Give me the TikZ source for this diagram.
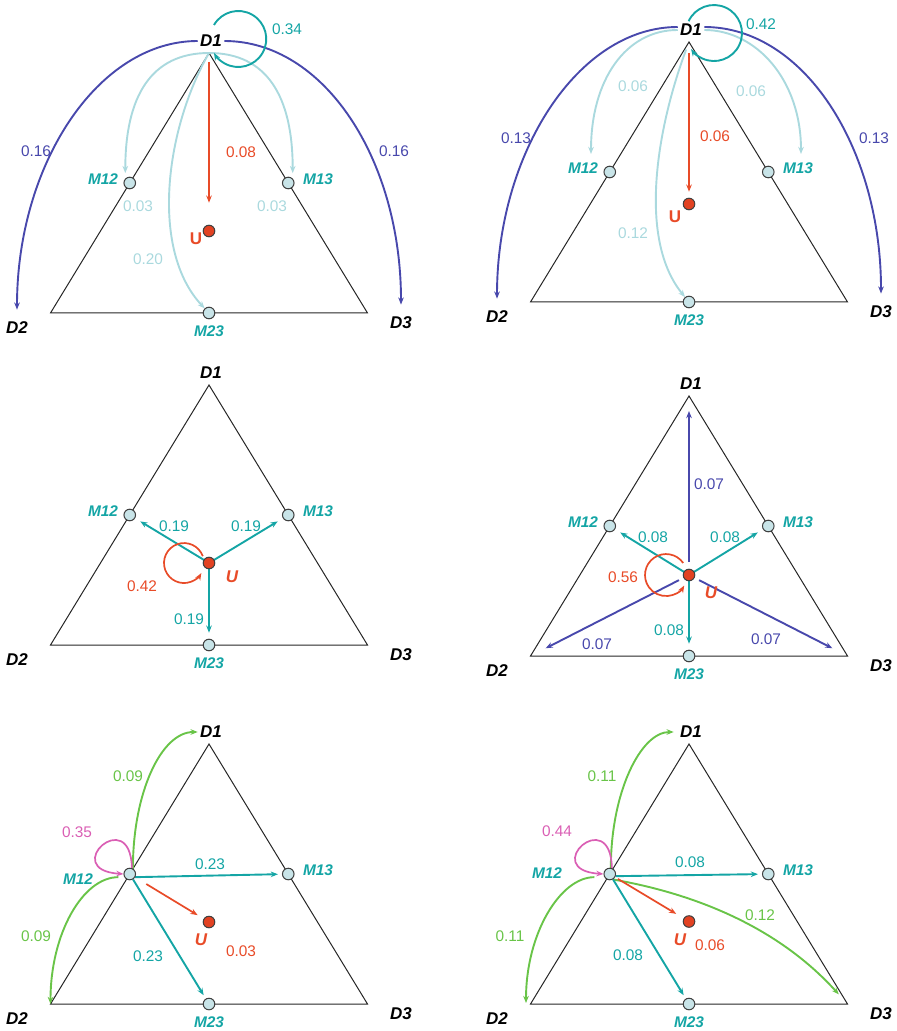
\documentclass[tikz,border=0pt]{standalone}
\usepackage{fontspec}
\setmainfont{Liberation Sans}
\usetikzlibrary{arrows.meta}
\pgfdeclarelayer{bg}
\pgfsetlayers{bg,main}
\definecolor{cteal}{RGB}{20,165,165}
\definecolor{clight}{RGB}{170,217,222}
\definecolor{cdblue}{RGB}{72,72,172}
\definecolor{cred}{RGB}{232,75,40}
\definecolor{cgreen}{RGB}{105,196,72}
\definecolor{cpink}{RGB}{218,95,180}
\definecolor{cnode}{RGB}{200,228,232}
\definecolor{cufill}{RGB}{226,66,34}
\tikzset{
  tri/.style={draw=black!85, line width=0.5pt},
  mnode/.style={circle, draw=black!75, fill=cnode, line width=0.5pt, minimum size=5.8pt, inner sep=0pt},
  unode/.style={circle, draw=black!75, fill=cufill, line width=0.5pt, minimum size=5.8pt, inner sep=0pt},
  dlab/.style={font=\fontsize{8.5}{10}\selectfont\bfseries\itshape, text=black, inner sep=1pt},
  mlab/.style={font=\fontsize{7.7}{9}\selectfont\bfseries\itshape, text=cteal, inner sep=1pt},
  num/.style={font=\fontsize{7.7}{9}\selectfont, inner sep=1pt},
  ulabup/.style={font=\fontsize{8.5}{10}\selectfont\bfseries, text=cred, inner sep=1pt},
  ulabit/.style={font=\fontsize{8.5}{10}\selectfont\bfseries\itshape, text=cred, inner sep=1pt},
  arr/.style={-{Stealth[length=3.6pt,width=2.8pt]}},
  dbarrow/.style={arr, draw=cdblue, line width=0.95pt},
  ltarrow/.style={arr, draw=clight, line width=0.95pt},
  tlarrow/.style={arr, draw=cteal, line width=0.95pt},
  tmarrow/.style={arr, draw=cteal, line width=0.95pt},
  rdarrow/.style={arr, draw=cred, line width=0.85pt},
  grarrow/.style={arr, draw=cgreen, line width=0.95pt},
  pkarrow/.style={arr, draw=cpink, line width=0.85pt},
}
\newcommand\basetri[2]{%
  \coordinate (#1A) at (0,0);
  \coordinate (#1B) at (-158.5,-260);
  \coordinate (#1C) at (158.5,-260);
  \node[mnode] (#1M12) at (-79.25,-130) {};
  \node[mnode] (#1M13) at (79.25,-130) {};
  \node[mnode] (#1M23) at (0,-260) {};
  \node[unode] (#1U) at (0,#2) {};
  \node[dlab] (#1D1) at (2,12) {D1};
  \node[dlab] (#1D2) at (-192,-275) {D2};
  \node[dlab] (#1D3) at (192,-270) {D3};
  \node[mlab] (#1L23) at (0,-278) {M23};
  \node[mlab] (#1L13) at (109,-126) {M13};
  \begin{pgfonlayer}{bg}
    \draw[tri] (#1A) -- (#1B) -- (#1C) -- cycle;
  \end{pgfonlayer}}
\begin{document}
\begin{tikzpicture}[x=0.5pt,y=0.5pt]
\useasboundingbox (0,0) rectangle (897,-1031);

% ---------------- Panel 1 ----------------
\begin{scope}[shift={(209,-53)}]
\basetri{a}{-178}
\node[ulabup] (aUL) at (-13,-186) {U};
\node[mlab] (aL12) at (-106,-126) {M12};
\node[num,text=cdblue] (an1) at (-173,-98) {0.16};
\node[num,text=cdblue] (an2) at (185,-98) {0.16};
\node[num,text=cteal] (an3) at (78,24) {0.34};
\node[num,text=cred] (an4) at (32,-99) {0.08};
\node[num,text=clight] (an5) at (-71,-153) {0.03};
\node[num,text=clight] (an6) at (63,-153) {0.03};
\node[num,text=clight] (an7) at (-61,-206) {0.20};
\begin{pgfonlayer}{bg}
\draw[dbarrow, shorten >=5pt] (aD1.west) .. controls +(-100,0) and +(0,155) .. (aD2.north);
\draw[dbarrow, shorten >=5pt] (aD1.east) .. controls +(100,0) and +(0,155) .. (aD3.north);
\draw[ltarrow, shorten >=2.7pt] (aA) .. controls +(-58,0) and +(0,82) .. (aM12.north west);
\draw[ltarrow, shorten >=2.7pt] (aA) .. controls +(58,0) and +(0,82) .. (aM13.north east);
\draw[ltarrow] (aA) .. controls (-44,-77) and (-59,-197) .. (aM23);
\draw[tlarrow] (aA) ++(5,28) arc[start angle=150,end angle=-150,radius=28];
\draw[rdarrow, shorten <=4.5pt, shorten >=11pt] (aA) -- (aU);
\end{pgfonlayer}
\end{scope}

% ---------------- Panel 2 ----------------
\begin{scope}[shift={(689,-42)}]
\basetri{b}{-162}
\node[ulabup] (bUL) at (-14,-175) {U};
\node[mlab] (bL12) at (-106,-126) {M12};
\coordinate (bE12) at (-98,-112);
\coordinate (bE13) at (112,-112);
\node[num,text=cdblue] (bn1) at (-173,-96) {0.13};
\node[num,text=cdblue] (bn2) at (185,-96) {0.13};
\node[num,text=cteal] (bn3) at (72,18) {0.42};
\node[num,text=cred] (bn4) at (26,-94) {0.06};
\node[num,text=clight] (bn5) at (-56,-44) {0.06};
\node[num,text=clight] (bn6) at (62,-49) {0.06};
\node[num,text=clight] (bn7) at (-56,-191) {0.12};
\begin{pgfonlayer}{bg}
\draw[dbarrow, shorten >=5pt] ([yshift=1.5pt]bD1.west) .. controls +(-100,0) and +(0,155) .. (bD2.north);
\draw[dbarrow, shorten >=5pt] ([yshift=1.5pt]bD1.east) .. controls +(100,0) and +(0,155) .. (bD3.north);
\draw[ltarrow] (bD1.west) .. controls +(-52,0) and +(0,74) .. (bE12);
\draw[ltarrow] (bD1.east) .. controls +(52,0) and +(0,74) .. (bE13);
\draw[ltarrow, shorten <=4pt] (bA) .. controls (-30,-80) and (-53,-195) .. (bM23);
\draw[tlarrow] (bA) ++(-0.4,20.8) arc[start angle=155,end angle=-145,radius=28];
\draw[rdarrow, shorten <=5.5pt, shorten >=3pt] (bA) -- (bU);
\end{pgfonlayer}
\end{scope}

% ---------------- Panel 3 ----------------
\begin{scope}[shift={(209,-385)}]
\basetri{c}{-178}
\node[ulabit] (cUL) at (23,-192) {U};
\node[mlab] (cL12) at (-106,-126) {M12};
\node[num,text=cteal] (cn1) at (-35,-141) {0.19};
\node[num,text=cteal] (cn2) at (37,-141) {0.19};
\node[num,text=cteal] (cn3) at (-20,-234) {0.19};
\node[num,text=cred] (cn4) at (-67,-201) {0.42};
\begin{pgfonlayer}{bg}
\draw[tmarrow, shorten >=3pt] (cU.center) -- (cM12);
\draw[tmarrow, shorten >=3pt] (cU.center) -- (cM13);
\draw[tmarrow, shorten >=3pt] (cU.center) -- (cM23);
\draw[rdarrow] (cU.center) ++(-6.2,6.8) arc[start angle=20,end angle=330,radius=20];
\end{pgfonlayer}
\end{scope}

% ---------------- Panel 4 ----------------
\begin{scope}[shift={(689,-396)}]
\basetri{d}{-179}
\node[ulabit] (dUL) at (22,-197) {U};
\node[mlab] (dL12) at (-106,-126) {M12};
\node[num,text=cdblue] (dn1) at (20,-88) {0.07};
\node[num,text=cteal] (dn2) at (-36,-141) {0.08};
\node[num,text=cteal] (dn3) at (36,-141) {0.08};
\node[num,text=cteal] (dn4) at (-20,-234) {0.08};
\node[num,text=cred] (dn5) at (-66,-181) {0.56};
\node[num,text=cdblue] (dn6) at (-92,-248) {0.07};
\node[num,text=cdblue] (dn7) at (77,-243) {0.07};
\begin{pgfonlayer}{bg}
\draw[dbarrow, shorten <=3.5pt, shorten >=7.5pt] (dU) -- (dA);
\draw[dbarrow, shorten <=2.5pt, shorten >=8.5pt] (dU) -- (dB);
\draw[dbarrow, shorten <=2.5pt, shorten >=8.5pt] (dU) -- (dC);
\draw[tmarrow, shorten >=3pt] (dU.center) -- (dM12);
\draw[tmarrow, shorten >=3pt] (dU.center) -- (dM13);
\draw[tmarrow, shorten >=3pt] (dU.center) -- (dM23);
\draw[rdarrow] (dU.center) ++(-5.8,12) arc[start angle=35,end angle=330,radius=21];
\end{pgfonlayer}
\end{scope}

% ---------------- Panel 5 ----------------
\begin{scope}[shift={(209,-744)}]
\basetri{e}{-178}
\node[ulabit] (eUL) at (-8,-196) {U};
\node[mlab] (eL12) at (-131,-135) {M12};
\node[num,text=cgreen] (en1) at (-81,-32) {0.09};
\node[num,text=cpink] (en2) at (-132,-88) {0.35};
\node[num,text=cteal] (en3) at (1,-120) {0.23};
\node[num,text=cgreen] (en4) at (-173,-192) {0.09};
\node[num,text=cteal] (en5) at (-61,-212) {0.23};
\node[num,text=cred] (en6) at (32,-207) {0.03};
\begin{pgfonlayer}{bg}
\draw[grarrow] (eM12.60) .. controls +(0,76) and +(-36.5,0) .. (eD1.west);
\draw[grarrow, shorten <=3pt] (eM12.210) .. controls +(-41.4,0) and +(0,70.4) .. (eB);
\draw[pkarrow] (eM12.70) .. controls +(-1.5,64.6) and +(-64.75,4.3) .. (eM12.west);
\draw[tmarrow, shorten >=2pt] (eM12.330) -- (eM13);
\draw[tmarrow, shorten >=2pt] (eM12) -- (eM23);
\draw[rdarrow, shorten <=6.5pt, shorten >=3.5pt] (eM12) -- (eU);
\end{pgfonlayer}
\end{scope}

% ---------------- Panel 6 ----------------
\begin{scope}[shift={(689,-744)}]
\basetri{f}{-177.5}
\node[ulabit] (fUL) at (-9,-196) {U};
\node[mlab] (fL12) at (-142,-129) {M12};
\coordinate (fE2) at (-163,-259);
\node[num,text=cgreen] (fn1) at (-87,-32) {0.11};
\node[num,text=cpink] (fn2) at (-132,-87) {0.44};
\node[num,text=cteal] (fn3) at (1,-118) {0.08};
\node[num,text=cgreen] (fn4) at (71,-171) {0.12};
\node[num,text=cgreen] (fn5) at (-179,-192) {0.11};
\node[num,text=cteal] (fn6) at (-61,-211) {0.08};
\node[num,text=cred] (fn7) at (21,-201) {0.06};
\begin{pgfonlayer}{bg}
\draw[grarrow, shorten >=2pt] (fM12.80) .. controls +(0,75.6) and +(-37,0) .. (fD1.west);
\draw[grarrow, shorten <=5pt] (fM12.210) .. controls +(-43.8,0) and +(0,69.8) .. (fE2);
\draw[grarrow, shorten >=6.5pt] (fM12.-60) .. controls (11.3,-150.7) and (91.3,-185.7) .. (fC);
\draw[pkarrow] (fM12.70) .. controls +(-1.5,64.6) and +(-64.75,4.3) .. (fM12.west);
\draw[tmarrow, shorten >=2pt] (fM12.340) -- (fM13);
\draw[tmarrow, shorten >=2pt] (fM12) -- (fM23);
\draw[rdarrow, shorten <=1.6pt, shorten >=4.3pt] (fM12) -- (fU);
\end{pgfonlayer}
\end{scope}
\end{tikzpicture}
\end{document}
